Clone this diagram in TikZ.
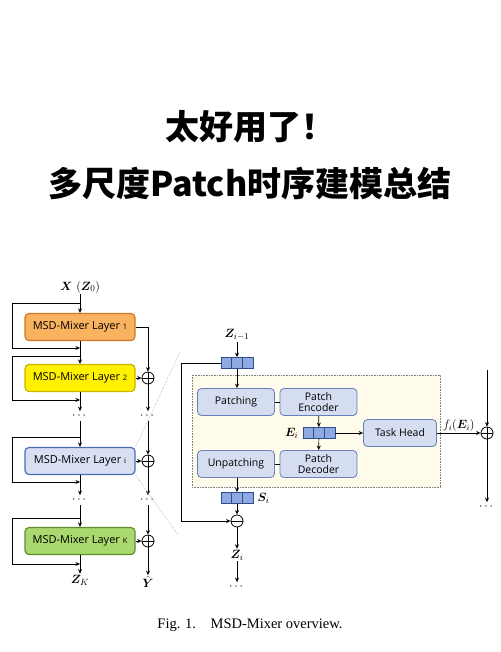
\documentclass[tikz,border=0pt]{standalone}
\usepackage{fontspec}
\usepackage{amsmath,bm}
\usetikzlibrary{arrows.meta,positioning,calc}
\newfontfamily\cjk{Noto Sans CJK SC}
\newfontfamily\boxfont{Open Sans}
\newfontfamily\capfont{Liberation Serif}
\definecolor{orfill}{HTML}{F9B25E}
\definecolor{ordraw}{HTML}{D0782A}
\definecolor{yefill}{HTML}{FFF100}
\definecolor{yedraw}{HTML}{C8B400}
\definecolor{blfill}{HTML}{D8DFF2}
\definecolor{bldraw}{HTML}{4A6CB3}
\definecolor{grfill}{HTML}{A9D86E}
\definecolor{grdraw}{HTML}{5E8E2D}
\definecolor{ptfill}{HTML}{D5DDF1}
\definecolor{ptdraw}{HTML}{6580BD}
\definecolor{cellfill}{HTML}{8FAAE0}
\definecolor{celldraw}{HTML}{2E4C8F}
\definecolor{panelfill}{HTML}{FFFCEC}
\definecolor{zoomgray}{HTML}{B8AFA0}
\tikzset{
  layer/.style={draw, rounded corners=4pt, line width=1.2pt, minimum width=110pt,
    minimum height=27pt, inner sep=0pt, font=\boxfont\fontsize{11}{13}\selectfont},
  ptbox/.style={draw=ptdraw, fill=ptfill, rounded corners=4pt, line width=0.8pt,
    minimum width=77pt, minimum height=27pt, inner sep=0pt, align=center,
    font=\boxfont\fontsize{10.5}{11.5}\selectfont},
  vecblock/.style={draw=celldraw, fill=cellfill, line width=0.8pt, minimum width=32pt,
    minimum height=11pt, inner sep=0pt,
    path picture={\foreach \f in {0.333,0.667}{
      \draw[celldraw, line width=0.8pt]
        ($(path picture bounding box.north west)!\f!(path picture bounding box.north east)$) --
        ($(path picture bounding box.south west)!\f!(path picture bounding box.south east)$);}}},
  plusnode/.style={circle, draw, line width=0.8pt, minimum size=12pt, inner sep=0pt,
    path picture={\draw[line width=0.8pt]
      (path picture bounding box.north) -- (path picture bounding box.south)
      (path picture bounding box.west) -- (path picture bounding box.east);}},
  minusnode/.style={circle, draw, line width=0.8pt, minimum size=12pt, inner sep=0pt,
    path picture={\draw[line width=0.8pt]
      (path picture bounding box.west) -- (path picture bounding box.east);}},
  arr/.style={-{Stealth[length=4.5pt,width=4pt]}, line width=0.7pt},
  ln/.style={line width=0.7pt},
  dots/.style={inner sep=2pt, font=\fontsize{12}{12}\selectfont},
  mathlbl/.style={inner sep=1pt, font=\fontsize{12.5}{14}\selectfont},
  zoomline/.style={densely dotted, draw=zoomgray, line width=0.6pt}
}
\begin{document}
\begin{tikzpicture}[x=1pt, y=-1pt]
\useasboundingbox (0,0) rectangle (500,652);
% title
\node (title1) at (250,127) {\cjk\bfseries\fontsize{34}{40}\selectfont 太好用了！};
\node (title2) at (250,183) {\cjk\bfseries\fontsize{34}{40}\selectfont 多尺度Patch时序建模总结};

% left column: stack of layers
\node [mathlbl] (xin) at (80,287) {$\bm{X}\ (\bm{Z}_0)$};
\node [layer, fill=orfill, draw=ordraw] (l1) at (80,327) {MSD-Mixer Layer {\fontsize{7.5}{8}\selectfont 1}};
\node [layer, fill=yefill, draw=yedraw] (l2) at (80,378) {MSD-Mixer Layer {\fontsize{7.5}{8}\selectfont 2}};
\node [dots] (dl1) at (80,416) {$\cdots$};
\node [layer, fill=blfill, draw=bldraw] (li) at (80,461) {MSD-Mixer Layer {\fontsize{7.5}{8}\selectfont i}};
\node [dots] (dl2) at (80,500) {$\cdots$};
\node [layer, fill=grfill, draw=grdraw] (lk) at (80,541) {MSD-Mixer Layer {\fontsize{7.5}{8}\selectfont K}};
\node [mathlbl] (zk) at (80,580) {$\bm{Z}_K$};

\draw [arr] (xin) -- (l1);
\draw [arr] (l1) -- (l2);
\draw [arr] (l2) -- (dl1);
\draw [arr] (dl1) -- (li);
\draw [arr] (li) -- (dl2);
\draw [arr] (dl2) -- (lk);
\draw [arr] (lk) -- (zk);
% skip loops
\draw [arr] (80,303) -- (12,303) |- (80,348);
\draw [arr] (80,356) -- (12,356) |- (80,400);
\draw [arr] (80,437) -- (12,437) |- (80,482);
\draw [arr] (80,518) -- (12,518) |- (80,564);

% right column: forecast sums
\node [plusnode] (p2) at (148,378) {};
\node [dots] (dr1) at (148,416) {$\cdots$};
\node [plusnode] (pi) at (148,461) {};
\node [dots] (dr2) at (148,500) {$\cdots$};
\node [plusnode] (pk) at (148,541) {};
\node [mathlbl] (yhat) at (148,582) {$\hat{\bm{Y}}$};

\draw [arr] (l1.east) -| (p2.north);
\draw [arr] (l2) -- (p2);
\draw [arr] (p2) -- (dr1);
\draw [arr] (dr1) -- (pi);
\draw [arr] (li) -- (pi);
\draw [arr] (pi) -- (dr2);
\draw [arr] (dr2) -- (pk);
\draw [arr] (lk) -- (pk);
\draw [arr] (pk) -- (yhat);

% zoom lines
\draw [zoomline] (li.north east) -- (180,352);
\draw [zoomline] (li.south east) -- (178,535);

% right panel: inside layer i
\draw [densely dotted, draw=gray, fill=panelfill, line width=0.6pt] (192,375) rectangle (440,487);
\node [mathlbl] (zin) at (237,335) {$\bm{Z}_{i-1}$};
\node [vecblock] (vz) at (237,363) {};
\node [ptbox] (patching) at (236,402) {Patching};
\node [ptbox] (encoder) at (318.5,402) {Patch\\Encoder};
\node [vecblock] (ve) at (319,433) {};
\node [mathlbl, left=3pt of ve] (elbl) {$\bm{E}_i$};
\node [ptbox, minimum width=73pt] (task) at (400,433) {Task Head};
\node [ptbox] (unpatching) at (236,464) {Unpatching};
\node [ptbox] (decoder) at (318.5,464) {Patch\\Decoder};
\node [vecblock] (vs) at (237,498) {};
\node [mathlbl, right=3pt of vs] (slbl) {$\bm{S}_i$};
\node [minusnode] (mn) at (237,521) {};
\node [mathlbl] (zi) at (237,555) {$\bm{Z}_i$};
\node [dots] (dz) at (237,587) {$\cdots$};
\node [plusnode] (pr) at (487,433) {};
\coordinate (prtop) at (487,370);
\node [dots] (drr) at (487,507) {$\cdots$};

\draw [arr] (zin) -- (vz);
\draw [arr] (vz.south) -- (vz.south |- patching.north);
\draw [ln] (patching) -- (encoder);
\draw [arr] (encoder) -- (ve);
\draw [arr] (ve) -- (decoder);
\draw [arr] (ve) -- (task);
\draw [ln] (unpatching) -- (decoder);
\draw [arr] (unpatching.south -| vs) -- (vs);
\draw [arr] (vs) -- (mn);
\draw [arr] (vz.west) -- ++(-39,0) |- (mn);
\draw [arr] (mn) -- (zi);
\draw [arr] (zi) -- (dz);
\draw [arr] (task) -- node [above, inner sep=1pt, font=\fontsize{12}{13}\selectfont] {$f_i(\bm{E}_i)$} (pr);
\draw [arr] (prtop) -- (pr);
\draw [arr] (pr) -- (drr);

% caption
\node (caption) at (250,625) {\capfont\fontsize{14.5}{16}\selectfont Fig. 1.\quad MSD-Mixer overview.};
\end{tikzpicture}
\end{document}
